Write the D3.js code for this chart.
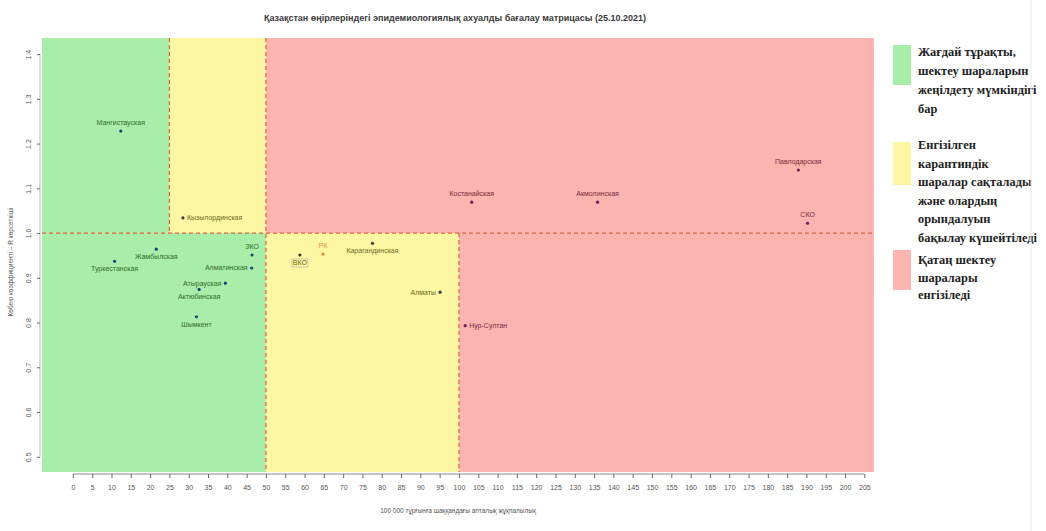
<!DOCTYPE html>
<html><head><meta charset="utf-8">
<script src="https://cdn.jsdelivr.net/npm/d3@7"></script>
<style>body{margin:0;background:#fff;}svg{display:block;}</style>
</head><body>
<script>
const regions = ["Мангистауская","Кызылординская","Жамбылская","Туркестанская","ЗКО","Алматинская","Атырауская","Актюбинская","Шымкент","ВКО","РК","Карагандинская","Алматы","Нур-Султан","Костанайская","Акмолинская","Павлодарская","СКО"];
const incidence = [12.4,28.5,21.6,10.8,46.4,46.3,39.5,32.7,32.0,58.8,64.8,77.6,95.1,101.6,103.3,135.9,187.9,190.3];
const rValue = [1.228,1.034,0.964,0.937,0.951,0.922,0.888,0.874,0.813,0.951,0.953,0.977,0.868,0.793,1.069,1.069,1.141,1.022];
const labelPos = ["top","right","bottom","bottom","top","left","left","bottom","bottom","bottom","top","bottom","left","right","top","top","top","top"];
const xTicks = d3.range(0,206,5);
const yTicks = [0.5,0.6,0.7,0.8,0.9,1.0,1.1,1.2,1.3,1.4];
// zones: [x0,x1,y0,y1,zone]
const zoneX0 = [-8,25,50,-8,50,100];
const zoneX1 = [25,50,207.5,50,100,207.5];
const zoneY0 = [1.0,1.0,1.0,0.466,0.466,0.466];
const zoneY1 = [1.436,1.436,1.436,1.0,1.0,1.0];
const zoneType = ["g","y","r","g","y","r"];
const legendTexts = [["Жағдай тұрақты,","шектеу шараларын","жеңілдету мүмкіндігі","бар"],["Енгізілген","карантиндік","шаралар сақталады","және олардың","орындалуын","бақылау күшейтіледі"],["Қатаң шектеу","шаралары","енгізіледі"]];
const title = "Қазақстан өңірлеріндегі эпидемиологиялық ахуалды бағалау матрицасы  (25.10.2021)";
const xTitle = "100 000 тұрғынға шаққандағы апталық жұқпалылық";
const yTitle = "Көбею коэффициенті – R көрсеткіші";

const W=1046,H=531;
const zoneFill={g:"#a8eea8",y:"#fdf7a4",r:"#fbb4b0"};
const ptColor={g:"#1d3f78",y:"#3a3a3a",r:"#6e1f55"};
const lbColor={g:"#2f6d2a",y:"#6d6a1c",r:"#7a2a3c"};

const svg=d3.select("body").append("svg").attr("width",W).attr("height",H);
const x=d3.scaleLinear().domain([-8,207.5]).range([42,874]);
const y=d3.scaleLinear().domain([0.466,1.436]).range([472,38]);

svg.append("text").attr("x",455).attr("y",21).attr("text-anchor","middle")
 .attr("font-family","Liberation Sans, Arial").attr("font-weight","bold").attr("font-size",9).attr("fill","#3a3a3a").text(title);

svg.selectAll("rect.zone").data(zoneType).join("rect").attr("class","zone")
 .attr("x",(d,i)=>x(zoneX0[i])).attr("width",(d,i)=>x(zoneX1[i])-x(zoneX0[i]))
 .attr("y",(d,i)=>y(zoneY1[i])).attr("height",(d,i)=>y(zoneY0[i])-y(zoneY1[i]))
 .attr("fill",d=>zoneFill[d]);

const dash={stroke:"#e2603e","stroke-width":1.2,"stroke-dasharray":"4,3"};
function dl(x1,y1,x2,y2){const l=svg.append("line").attr("x1",x1).attr("y1",y1).attr("x2",x2).attr("y2",y2);for(const k in dash)l.attr(k,dash[k]);}
dl(x(25),y(1.436),x(25),y(1.0));
dl(x(50),y(1.436),x(50),y(0.466));
dl(x(100),y(1.0),x(100),y(0.466));
dl(x(-8),y(1.0),x(207.5),y(1.0));

// x axis
const xa=svg.append("g").attr("transform","translate(0,474)").attr("color","#666")
 .call(d3.axisBottom(x).tickValues(xTicks).tickSize(4).tickSizeOuter(0).tickFormat(d3.format("d")));
xa.select(".domain").attr("d",`M${x(0)},0H${x(205)}`).attr("stroke","#888");
xa.selectAll("text").attr("font-family","Liberation Sans, Arial").attr("font-size",7).attr("fill","#555").attr("dy","1.3em");
svg.append("text").attr("x",458).attr("y",513).attr("text-anchor","middle").attr("font-family","Liberation Sans, Arial").attr("font-size",6.5).attr("fill","#555").text(xTitle);

// y axis
const ya=svg.append("g").attr("transform","translate(40,0)").attr("color","#666")
 .call(d3.axisLeft(y).tickValues(yTicks).tickSize(3).tickSizeOuter(0).tickFormat(d3.format(".1f")));
ya.select(".domain").attr("d",`M0,${y(0.5)}V${y(1.4)}`).attr("stroke","#bbb");
ya.selectAll("text").attr("font-family","Liberation Sans, Arial").attr("font-size",7).attr("fill","#555")
 .attr("text-anchor","middle").attr("transform","rotate(-90)").attr("x",0).attr("y",-9).attr("dy","0");
svg.append("text").attr("transform","translate(13,262) rotate(-90)").attr("text-anchor","middle").attr("font-family","Liberation Sans, Arial").attr("font-size",6.5).attr("fill","#555").text(yTitle);

function zoneOf(i){const xv=incidence[i],yv=rValue[i];if(yv>=1){return xv<25?"g":xv<50?"y":"r";}return xv<50?"g":xv<100?"y":"r";}
const g=svg.append("g");
g.selectAll("circle").data(regions).join("circle")
 .attr("cx",(d,i)=>x(incidence[i])).attr("cy",(d,i)=>y(rValue[i])).attr("r",1.6)
 .attr("fill",(d,i)=>d==="РК"?"#e8863a":ptColor[zoneOf(i)]);
g.selectAll("text").data(regions).join("text")
 .attr("x",(d,i)=>{const p=labelPos[i],cx=x(incidence[i]);return p==="left"?cx-4:p==="right"?cx+4:cx;})
 .attr("y",(d,i)=>{const p=labelPos[i],cy=y(rValue[i]);return p==="top"?cy-6:p==="bottom"?cy+10:cy+2.5;})
 .attr("text-anchor",(d,i)=>labelPos[i]==="left"?"end":labelPos[i]==="right"?"start":"middle")
 .attr("font-family","Liberation Sans, Arial").attr("font-size",7)
 .attr("fill",(d,i)=>d==="РК"?"#e8863a":lbColor[zoneOf(i)]).text(d=>d);
const vi=regions.indexOf("ВКО");
g.append("rect").attr("x",x(incidence[vi])-8).attr("y",y(rValue[vi])+4).attr("width",16).attr("height",8)
 .attr("fill","none").attr("stroke","#aaa").attr("stroke-width",0.6);

// legend
const lgY=[45,142,250],lgH=[40,43,40],lgTextY=[52,145,260],lgStep=[19,18.5,17.5];
const lgc=["g","y","r"];
lgc.forEach((c,k)=>{
 svg.append("rect").attr("x",893).attr("y",lgY[k]).attr("width",18).attr("height",lgH[k]).attr("fill",zoneFill[c]);
 const t=svg.append("text").attr("font-family","Liberation Serif, Times New Roman").attr("font-weight","bold").attr("font-size",12.4).attr("fill","#222");
 legendTexts[k].forEach((s,j)=>t.append("tspan").attr("x",918).attr("y",lgTextY[k]+4+j*lgStep[k]).text(s));
});
svg.append("line").attr("x1",1031).attr("x2",1031).attr("y1",0).attr("y2",H).attr("stroke","#e6e6e6");
</script>
</body></html>
